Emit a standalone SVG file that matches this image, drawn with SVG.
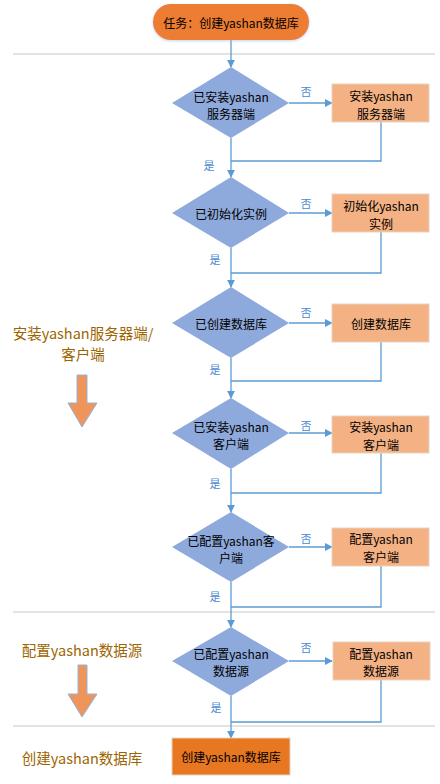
<svg xmlns="http://www.w3.org/2000/svg" width="440" height="784" viewBox="0 0 440 784">
<defs>
<style>
text{font-family:"Microsoft YaHei","Noto Sans CJK SC","Noto Sans",sans-serif;text-anchor:middle;dominant-baseline:central}
.t{font-size:12px;fill:#000}
.lab{font-size:11px;fill:#4A8BD0}
.side{font-size:14.5px;fill:#9C6500}
.dia{fill:#8EA9DB}
.box{fill:#F4B183;stroke:#E6D3C2;stroke-width:1}
.sep{stroke:#C8C8CC;stroke-width:1.2}
.ln{stroke:#5B9BD5;stroke-width:1.3;fill:none}
.ar{stroke:#5B9BD5;stroke-width:1.3;fill:none;marker-end:url(#ah)}
.blk{fill:#F0955A;stroke:#8FB4E0;stroke-width:1}
</style>
<marker id="ah" viewBox="0 0 10 10" refX="9" refY="5" markerWidth="6" markerHeight="6" orient="auto" markerUnits="strokeWidth">
<path d="M0,0 L10,5 L0,10 Z" fill="#5B9BD5"/>
</marker>
<filter id="sh" x="-20%" y="-30%" width="140%" height="160%">
<feDropShadow dx="0" dy="1" stdDeviation="1.5" flood-color="#9DB8DA" flood-opacity="0.6"/>
</filter>
</defs>
<rect width="440" height="784" fill="#fff"/>
<g id="separators">
<line class="sep" x1="13" y1="54" x2="435" y2="54"/>
<line class="sep" x1="13" y1="612" x2="435" y2="612"/>
<line class="sep" x1="13" y1="726" x2="435" y2="726"/>
</g>
<g id="connectors">
<line class="ar" x1="231" y1="40" x2="231" y2="67"/>
<line class="ar" x1="289" y1="103" x2="332" y2="103"/>
<polyline class="ln" points="381,122 381,161 231,161"/>
<line class="ln" x1="231" y1="138" x2="231" y2="161"/>
<line class="ar" x1="231" y1="161" x2="231" y2="177"/>
<line class="ar" x1="289" y1="213" x2="332" y2="213"/>
<polyline class="ln" points="381,232 381,273 231,273"/>
<line class="ln" x1="231" y1="248" x2="231" y2="273"/>
<line class="ar" x1="231" y1="273" x2="231" y2="287"/>
<line class="ar" x1="289" y1="323" x2="332" y2="323"/>
<polyline class="ln" points="381,342 381,381 231,381"/>
<line class="ln" x1="231" y1="358" x2="231" y2="381"/>
<line class="ar" x1="231" y1="381" x2="231" y2="398"/>
<line class="ar" x1="289" y1="433" x2="332" y2="433"/>
<polyline class="ln" points="381,453 381,493 231,493"/>
<line class="ln" x1="231" y1="469" x2="231" y2="493"/>
<line class="ar" x1="231" y1="493" x2="231" y2="512"/>
<line class="ar" x1="289" y1="547" x2="332" y2="547"/>
<polyline class="ln" points="381,566 381,607 231,607"/>
<line class="ln" x1="231" y1="582" x2="231" y2="607"/>
<line class="ar" x1="231" y1="607" x2="231" y2="627"/>
<line class="ar" x1="289" y1="661" x2="332" y2="661"/>
<polyline class="ln" points="381,680 381,722 231,722"/>
<line class="ln" x1="231" y1="696" x2="231" y2="722"/>
<line class="ar" x1="231" y1="722" x2="231" y2="738"/>
<text class="lab" x="306" y="91">否</text>
<text class="lab" x="209" y="165">是</text>
<text class="lab" x="306" y="203">否</text>
<text class="lab" x="215" y="259">是</text>
<text class="lab" x="306" y="312">否</text>
<text class="lab" x="215" y="369">是</text>
<text class="lab" x="306" y="425">否</text>
<text class="lab" x="215" y="483">是</text>
<text class="lab" x="306" y="538">否</text>
<text class="lab" x="215" y="596">是</text>
<text class="lab" x="306" y="647">否</text>
<text class="lab" x="216" y="707">是</text>
</g>
<g id="start">
<rect x="153" y="4" width="156" height="36" rx="18" fill="#ED7D31" filter="url(#sh)"/>
<text class="t" x="231" y="22">任务：创建yashan数据库</text>
</g>
<g id="d1">
<polygon class="dia" points="231,67 289,103 231,138 172,103"/>
<text class="t" x="231" y="96">已安装yashan</text>
<text class="t" x="231" y="113">服务器端</text>
</g>
<g id="b1">
<rect class="box" x="332" y="84" width="97" height="38"/>
<text class="t" x="381" y="95">安装yashan</text>
<text class="t" x="381" y="113">服务器端</text>
</g>
<g id="d2">
<polygon class="dia" points="231,177 289,213 231,248 172,213"/>
<text class="t" x="231" y="213">已初始化实例</text>
</g>
<g id="b2">
<rect class="box" x="332" y="194" width="97" height="38"/>
<text class="t" x="381" y="205">初始化yashan</text>
<text class="t" x="381" y="223">实例</text>
</g>
<g id="d3">
<polygon class="dia" points="231,287 289,323 231,358 172,323"/>
<text class="t" x="231" y="323">已创建数据库</text>
</g>
<g id="b3">
<rect class="box" x="332" y="304" width="97" height="38"/>
<text class="t" x="381" y="323">创建数据库</text>
</g>
<g id="d4">
<polygon class="dia" points="231,398 289,433 231,469 172,433"/>
<text class="t" x="231" y="426">已安装yashan</text>
<text class="t" x="231" y="443">客户端</text>
</g>
<g id="b4">
<rect class="box" x="332" y="416" width="97" height="37"/>
<text class="t" x="381" y="426">安装yashan</text>
<text class="t" x="381" y="444">客户端</text>
</g>
<g id="d5">
<polygon class="dia" points="231,512 289,547 231,582 172,547"/>
<text class="t" x="231" y="540">已配置yashan客</text>
<text class="t" x="231" y="557">户端</text>
</g>
<g id="b5">
<rect class="box" x="332" y="528" width="97" height="38"/>
<text class="t" x="381" y="538">配置yashan</text>
<text class="t" x="381" y="556">客户端</text>
</g>
<g id="d6">
<polygon class="dia" points="231,627 289,661 231,696 172,661"/>
<text class="t" x="231" y="653">已配置yashan</text>
<text class="t" x="231" y="670">数据源</text>
</g>
<g id="b6">
<rect class="box" x="333" y="642" width="97" height="38"/>
<text class="t" x="381" y="653">配置yashan</text>
<text class="t" x="381" y="670">数据源</text>
</g>
<g id="end">
<rect x="172" y="738" width="118" height="37" fill="#E87722" stroke="#E6D3C2" stroke-width="1"/>
<text class="t" x="231" y="756">创建yashan数据库</text>
</g>
<g id="phase1">
<text class="side" x="83" y="332">安装yashan服务器端/</text>
<text class="side" x="83" y="353">客户端</text>
<polygon class="blk" points="77,375 87,375 87,403 97,403 82,427 68,403 77,403"/>
</g>
<g id="phase2">
<text class="side" x="82" y="649">配置yashan数据源</text>
<polygon class="blk" points="78,665 87,665 87,694 97,694 82,717 68,694 78,694"/>
</g>
<g id="phase3">
<text class="side" x="82" y="757">创建yashan数据库</text>
</g>
</svg>
